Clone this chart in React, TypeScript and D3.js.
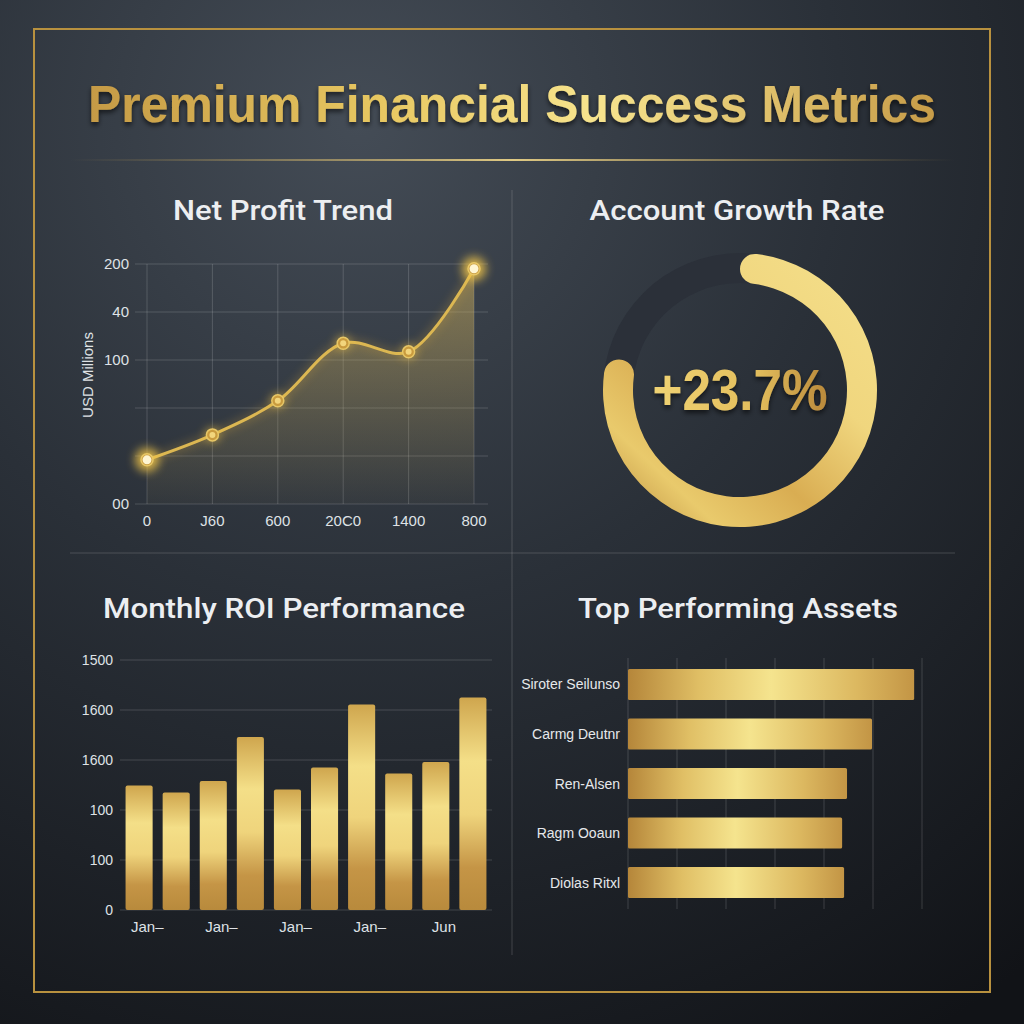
import React from 'react';
import * as d3 from 'd3';

const chartTitle = 'Premium Financial Success Metrics';

// Net Profit Trend
const profitXLabels = ['0', 'J60', '600', '20C0', '1400', '800'];
const profitValues = [0.92, 1.44, 2.15, 3.35, 3.17, 4.9];
const profitYTicks = [0, 1, 2, 3, 4, 5];
const profitYLabels = ['00', '', '', '100', '40', '200'];

// Account Growth Rate
const growthShare = 0.79;
const growthLabel = '+23.7%';

// Monthly ROI Performance
const roiMonths = ['m1', 'm2', 'm3', 'm4', 'm5', 'm6', 'm7', 'm8', 'm9', 'm10'];
const roiValues = [2.49, 2.35, 2.58, 3.46, 2.41, 2.85, 4.11, 2.73, 2.96, 4.25];
const roiYTicks = [0, 1, 2, 3, 4, 5];
const roiYLabels = ['0', '100', '100', '1600', '1600', '1500'];
const roiXLabels = ['Jan–', 'Jan–', 'Jan–', 'Jan–', 'Jun'];

// Top Performing Assets
const assetNames = ['Siroter Seilunso', 'Carmg Deutnr', 'Ren-Alsen', 'Ragm Ooaun', 'Diolas Ritxl'];
const assetValues = [5.84, 4.98, 4.47, 4.37, 4.41];
const assetTicks = [0, 1, 2, 3, 4, 5, 6];

const FONT = "'Liberation Sans', Arial, sans-serif";
const GRID = 'rgba(255,255,255,0.16)';
const TICK = '#dfe2e6';

const App: React.FC = () => {
    // line chart scales
    const px = d3.scalePoint<number>().domain(d3.range(profitValues.length)).range([147, 474]);
    const py = d3.scaleLinear().domain([0, 5]).range([504, 264]);
    const line = d3.line<number>()
        .x((_, i) => px(i) as number)
        .y(d => py(d))
        .curve(d3.curveCatmullRom.alpha(0.5));
    const area = d3.area<number>()
        .x((_, i) => px(i) as number)
        .y0(py(0))
        .y1(d => py(d))
        .curve(d3.curveCatmullRom.alpha(0.5));

    // donut
    const cx = 740, cy = 390;
    const track = d3.arc()({ innerRadius: 107, outerRadius: 137, startAngle: 0, endAngle: Math.PI * 2 }) as string;
    const goldArc = d3.arc().cornerRadius(15)({
        innerRadius: 107, outerRadius: 137, startAngle: 0, endAngle: Math.PI * 2 * growthShare,
    }) as string;

    // ROI bars
    const bx = d3.scaleBand().domain(roiMonths).range([120, 492]).paddingInner(0.27).paddingOuter(0.15);
    const by = d3.scaleLinear().domain([0, 5]).range([910, 660]);

    // assets
    const ay = d3.scaleBand().domain(assetNames).range([658, 909]).paddingInner(0.37).paddingOuter(0.22);
    const ax = d3.scaleLinear().domain([0, 6]).range([628, 922]);

    const panelTitles: [string, number, number, number][] = [
        ['Net Profit Trend', 283, 220, 220],
        ['Account Growth Rate', 737, 220, 295],
        ['Monthly ROI Performance', 284, 618, 362],
        ['Top Performing Assets', 738, 618, 320],
    ];

    return (
        <svg width={1024} height={1024} style={{ position: 'absolute', left: 0, top: 0, display: 'block' }}
            fontFamily={FONT}>
            <defs>
                <radialGradient id="bg" cx="0.35" cy="0.12" r="1.05">
                    <stop offset="0" stopColor="#444c56" />
                    <stop offset="0.45" stopColor="#2a3038" />
                    <stop offset="1" stopColor="#111317" />
                </radialGradient>
                <linearGradient id="titleGold" x1="0" x2="1" y1="0" y2="0">
                    <stop offset="0" stopColor="#c59a45" />
                    <stop offset="0.35" stopColor="#e8c862" />
                    <stop offset="0.6" stopColor="#f7e48e" />
                    <stop offset="1" stopColor="#c79c48" />
                </linearGradient>
                <linearGradient id="sep" x1="0" x2="1">
                    <stop offset="0" stopColor="#c9a34f" stopOpacity="0" />
                    <stop offset="0.5" stopColor="#f2d98a" stopOpacity="0.9" />
                    <stop offset="1" stopColor="#c9a34f" stopOpacity="0" />
                </linearGradient>
                <linearGradient id="areaFill" gradientUnits="userSpaceOnUse" x1="0" x2="0" y1="264" y2="504">
                    <stop offset="0" stopColor="#d8b75e" stopOpacity="0.5" />
                    <stop offset="1" stopColor="#d8b75e" stopOpacity="0.03" />
                </linearGradient>
                <linearGradient id="ringGold" gradientUnits="userSpaceOnUse" x1="130" y1="-140" x2="-130" y2="140">
                    <stop offset="0" stopColor="#f5e08c" />
                    <stop offset="0.35" stopColor="#f0d67e" />
                    <stop offset="0.6" stopColor="#d9ad52" />
                    <stop offset="0.8" stopColor="#e9ca6c" />
                    <stop offset="1" stopColor="#b8883b" />
                </linearGradient>
                <linearGradient id="pctGold" x1="0" x2="1" y1="0" y2="0">
                    <stop offset="0" stopColor="#f0d374" />
                    <stop offset="0.6" stopColor="#e2bd5c" />
                    <stop offset="1" stopColor="#b9893b" />
                </linearGradient>
                <linearGradient id="vbar" x1="0" x2="0" y1="0" y2="1">
                    <stop offset="0" stopColor="#cfa64e" />
                    <stop offset="0.3" stopColor="#f4df88" />
                    <stop offset="0.55" stopColor="#efd47c" />
                    <stop offset="0.8" stopColor="#c59546" />
                    <stop offset="1" stopColor="#b88a3c" />
                </linearGradient>
                <linearGradient id="hbar" x1="0" x2="1" y1="0" y2="0">
                    <stop offset="0" stopColor="#b5863a" />
                    <stop offset="0.25" stopColor="#e0bf65" />
                    <stop offset="0.5" stopColor="#f5e48e" />
                    <stop offset="0.8" stopColor="#dcb860" />
                    <stop offset="1" stopColor="#c39545" />
                </linearGradient>
                <filter id="glow" x="-200%" y="-200%" width="500%" height="500%">
                    <feGaussianBlur stdDeviation="5" />
                </filter>
                <filter id="shadow" x="-10%" y="-30%" width="120%" height="160%">
                    <feDropShadow dx="0" dy="3" stdDeviation="2.5" floodColor="#000" floodOpacity="0.6" />
                </filter>
            </defs>

            <rect width={1024} height={1024} fill="url(#bg)" />
            <rect x={34} y={29} width={956} height={963} fill="none" stroke="#b8913f" strokeWidth={2} />

            <text x={512} y={122} textAnchor="middle" fontSize={52} fontWeight="bold" fill="url(#titleGold)"
                textLength={848} lengthAdjust="spacingAndGlyphs" filter="url(#shadow)">{chartTitle}</text>
            <rect x={70} y={159} width={885} height={2} fill="url(#sep)" />

            <line x1={512} x2={512} y1={190} y2={955} stroke="rgba(200,200,200,0.22)" />
            <line x1={70} x2={955} y1={553} y2={553} stroke="rgba(200,200,200,0.22)" />

            {panelTitles.map(([t, x, y, w]) => (
                <text key={t} x={x} y={y} textAnchor="middle" fontSize={27} fill="#eceef1" fontFamily="Roboto"
                    fontWeight={500} textLength={w} lengthAdjust="spacingAndGlyphs">{t}</text>
            ))}

            {/* Net Profit Trend */}
            <g>
                {profitYTicks.map(t => (
                    <line key={'h' + t} x1={135} x2={488} y1={py(t)} y2={py(t)} stroke={GRID} />
                ))}
                {profitValues.map((_, i) => (
                    <line key={'v' + i} x1={px(i)} x2={px(i)} y1={py(5)} y2={py(0)} stroke={GRID} />
                ))}
                {profitYTicks.map((t, i) => (
                    <text key={'yl' + t} x={129} y={py(t) + 5} textAnchor="end" fontSize={15} fill={TICK}>
                        {profitYLabels[i]}
                    </text>
                ))}
                {profitXLabels.map((l, i) => (
                    <text key={'xl' + i} x={px(i)} y={526} textAnchor="middle" fontSize={15} fill={TICK}>{l}</text>
                ))}
                <text transform="translate(93,375) rotate(-90)" textAnchor="middle" fontSize={15} fill={TICK}>USD Millions</text>
                <path d={area(profitValues) as string} fill="url(#areaFill)" />
                <path d={line(profitValues) as string} fill="none" stroke="#b8923c" strokeWidth={6} opacity={0.4} filter="url(#glow)" />
                <path d={line(profitValues) as string} fill="none" stroke="#dcb752" strokeWidth={3} />
                {profitValues.map((v, i) => {
                    const big = i === 0 || i === profitValues.length - 1;
                    return (
                        <g key={'p' + i}>
                            <circle cx={px(i)} cy={py(v)} r={big ? 12 : 8} fill="#f5c84a" opacity={big ? 0.8 : 0.45} filter="url(#glow)" />
                            <circle cx={px(i)} cy={py(v)} r={6} fill="#c99b3e" stroke="#e7c767" strokeWidth={1.5} />
                            <circle cx={px(i)} cy={py(v)} r={big ? 4.5 : 3} fill={big ? '#fff6d2' : '#f2d57c'} />
                        </g>
                    );
                })}
            </g>

            {/* Account Growth Rate */}
            <g transform={`translate(${cx},${cy})`}>
                <path d={track} fill="#2b3039" />
                <path d={goldArc} fill="url(#ringGold)" />
                <text x={0} y={20} textAnchor="middle" fontSize={58} fontWeight="bold" fill="url(#pctGold)"
                    textLength={175} lengthAdjust="spacingAndGlyphs" filter="url(#shadow)">{growthLabel}</text>
            </g>

            {/* Monthly ROI Performance */}
            <g>
                {roiYTicks.map((t, i) => (
                    <g key={'r' + t}>
                        <line x1={120} x2={492} y1={by(t)} y2={by(t)} stroke={GRID} />
                        <text x={113} y={by(t) + 5} textAnchor="end" fontSize={14} fill={TICK}>{roiYLabels[i]}</text>
                    </g>
                ))}
                {roiValues.map((v, i) => (
                    <rect key={'b' + i} x={bx(roiMonths[i])} y={by(v)} width={bx.bandwidth()} height={by(0) - by(v)}
                        rx={2} fill="url(#vbar)" />
                ))}
                {roiXLabels.map((l, i) => (
                    <text key={'rl' + i} x={(bx(roiMonths[i * 2]) as number) + bx.bandwidth() * 0.8} y={932}
                        textAnchor="middle" fontSize={15} fill={TICK}>{l}</text>
                ))}
            </g>

            {/* Top Performing Assets */}
            <g>
                {assetTicks.map(t => (
                    <line key={'a' + t} x1={ax(t)} x2={ax(t)} y1={658} y2={909} stroke={GRID} />
                ))}
                {assetValues.map((v, i) => (
                    <g key={'ab' + i}>
                        <rect x={ax(0)} y={ay(assetNames[i])} width={ax(v) - ax(0)} height={ay.bandwidth()}
                            rx={1.5} fill="url(#hbar)" />
                        <text x={620} y={(ay(assetNames[i]) as number) + ay.bandwidth() / 2 + 5} textAnchor="end"
                            fontSize={14} fill="#e6e8eb">{assetNames[i]}</text>
                    </g>
                ))}
            </g>
        </svg>
    );
};

export default App;
